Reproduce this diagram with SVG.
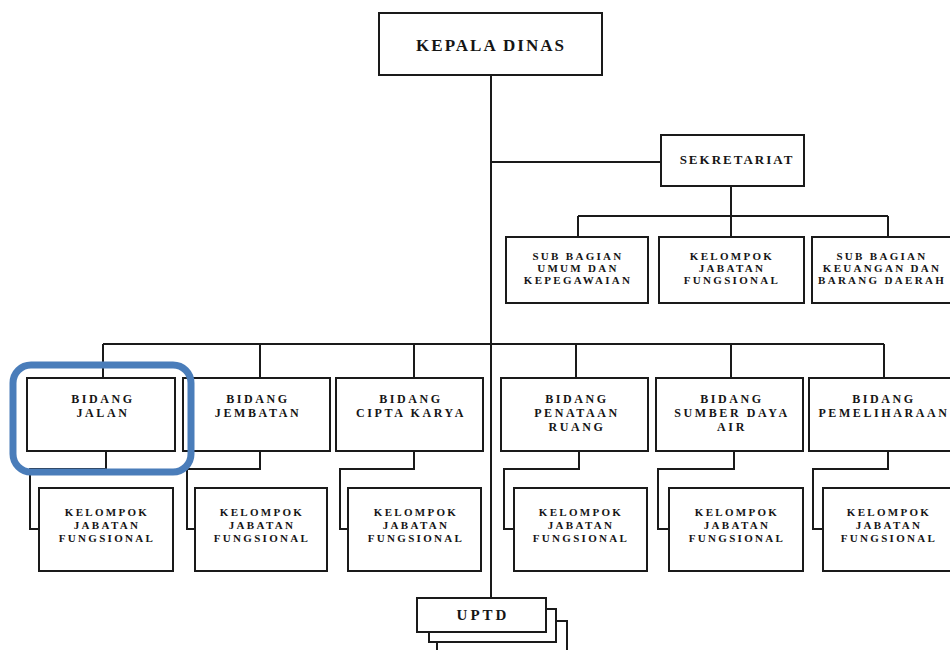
<svg xmlns="http://www.w3.org/2000/svg" width="950" height="650" viewBox="0 0 950 650">
<style>
.box{fill:#fff;stroke:#1a1a1a;stroke-width:2}
.ln{fill:none;stroke:#1a1a1a;stroke-width:2}
text{font-family:"Liberation Serif","Times New Roman",serif;font-weight:bold;fill:#151515;text-anchor:middle}
.t17{font-size:17px;letter-spacing:2px}
.t15{font-size:15px;letter-spacing:3px}
.t13{font-size:13px;letter-spacing:2px}
.t12{font-size:12px;letter-spacing:2.6px}
.t11{font-size:11px;letter-spacing:2.3px}
.hl{fill:none;stroke:#4a7dba;stroke-width:7}
</style>
<rect width="950" height="650" fill="#fff"/>
<g id="connectors">
<path class="ln" d="M491 75V598"/>
<path class="ln" d="M491 162H661"/>
<path class="ln" d="M731 186V216M578 216H888M578 216V237M731 216V237M888 216V237"/>
<path class="ln" d="M103 344H884M103 344V378M260 344V378M414 344V378M576 344V378M731 344V378M884 344V378"/>
<path class="ln" d="M106 451V469H30V529H39"/>
<path class="ln" d="M260 451V469H187V529H195"/>
<path class="ln" d="M414 451V469H340V529H348"/>
<path class="ln" d="M579 451V469H504V529H514"/>
<path class="ln" d="M734 451V469H658V529H669"/>
<path class="ln" d="M888 451V469H813V529H823"/>
</g>
<g id="kepala-dinas">
<rect class="box" x="379" y="13" width="223" height="62"/>
<text class="t17" x="491" y="51">KEPALA DINAS</text>
</g>
<g id="sekretariat">
<rect class="box" x="661" y="135" width="143" height="51"/>
<text class="t13" x="737" y="164">SEKRETARIAT</text>
</g>
<g id="sub-umum">
<rect class="box" x="506" y="237" width="142" height="66"/>
<text class="t11" x="578" y="260">SUB BAGIAN</text>
<text class="t11" x="578" y="272">UMUM DAN</text>
<text class="t11" x="578" y="284">KEPEGAWAIAN</text>
</g>
<g id="sub-kelompok">
<rect class="box" x="659" y="237" width="145" height="66"/>
<text class="t11" x="732" y="260">KELOMPOK</text>
<text class="t11" x="732" y="272">JABATAN</text>
<text class="t11" x="732" y="284">FUNGSIONAL</text>
</g>
<g id="sub-keuangan">
<rect class="box" x="812" y="237" width="145" height="66"/>
<text class="t11" x="882" y="260">SUB BAGIAN</text>
<text class="t11" x="882" y="272">KEUANGAN DAN</text>
<text class="t11" x="882" y="284">BARANG DAERAH</text>
</g>
<g id="bidang-jalan">
<rect class="box" x="27" y="378" width="148" height="73"/>
<text class="t12" x="103" y="403">BIDANG</text>
<text class="t12" x="103" y="417">JALAN</text>
</g>
<g id="bidang-jembatan">
<rect class="box" x="183" y="378" width="147" height="73"/>
<text class="t12" x="258" y="403">BIDANG</text>
<text class="t12" x="258" y="417">JEMBATAN</text>
</g>
<g id="bidang-cipta-karya">
<rect class="box" x="336" y="378" width="147" height="73"/>
<text class="t12" x="411" y="403">BIDANG</text>
<text class="t12" x="411" y="417">CIPTA KARYA</text>
</g>
<g id="bidang-penataan-ruang">
<rect class="box" x="501" y="378" width="147" height="73"/>
<text class="t12" x="577" y="403">BIDANG</text>
<text class="t12" x="577" y="417">PENATAAN</text>
<text class="t12" x="577" y="431">RUANG</text>
</g>
<g id="bidang-sumber-daya-air">
<rect class="box" x="656" y="378" width="147" height="73"/>
<text class="t12" x="732" y="403">BIDANG</text>
<text class="t12" x="732" y="417">SUMBER DAYA</text>
<text class="t12" x="732" y="431">AIR</text>
</g>
<g id="bidang-pemeliharaan">
<rect class="box" x="809" y="378" width="146" height="73"/>
<text class="t12" x="884" y="403">BIDANG</text>
<text class="t12" x="884" y="417">PEMELIHARAAN</text>
</g>
<g id="kjf-1">
<rect class="box" x="39" y="488" width="134" height="83"/>
<text class="t11" x="107" y="516">KELOMPOK</text>
<text class="t11" x="107" y="529">JABATAN</text>
<text class="t11" x="107" y="542">FUNGSIONAL</text>
</g>
<g id="kjf-2">
<rect class="box" x="195" y="488" width="132" height="83"/>
<text class="t11" x="262" y="516">KELOMPOK</text>
<text class="t11" x="262" y="529">JABATAN</text>
<text class="t11" x="262" y="542">FUNGSIONAL</text>
</g>
<g id="kjf-3">
<rect class="box" x="348" y="488" width="133" height="83"/>
<text class="t11" x="416" y="516">KELOMPOK</text>
<text class="t11" x="416" y="529">JABATAN</text>
<text class="t11" x="416" y="542">FUNGSIONAL</text>
</g>
<g id="kjf-4">
<rect class="box" x="514" y="488" width="133" height="83"/>
<text class="t11" x="581" y="516">KELOMPOK</text>
<text class="t11" x="581" y="529">JABATAN</text>
<text class="t11" x="581" y="542">FUNGSIONAL</text>
</g>
<g id="kjf-5">
<rect class="box" x="669" y="488" width="134" height="83"/>
<text class="t11" x="737" y="516">KELOMPOK</text>
<text class="t11" x="737" y="529">JABATAN</text>
<text class="t11" x="737" y="542">FUNGSIONAL</text>
</g>
<g id="kjf-6">
<rect class="box" x="823" y="488" width="132" height="83"/>
<text class="t11" x="889" y="516">KELOMPOK</text>
<text class="t11" x="889" y="529">JABATAN</text>
<text class="t11" x="889" y="542">FUNGSIONAL</text>
</g>
<g id="uptd">
<rect class="box" x="437" y="621" width="130" height="40"/>
<rect class="box" x="429" y="609" width="127" height="33"/>
<rect class="box" x="417" y="598" width="129" height="34"/>
<text class="t15" x="483" y="620">UPTD</text>
</g>
<g id="highlight">
<rect class="hl" x="13" y="365" width="178" height="107" rx="18"/>
</g>
</svg>
